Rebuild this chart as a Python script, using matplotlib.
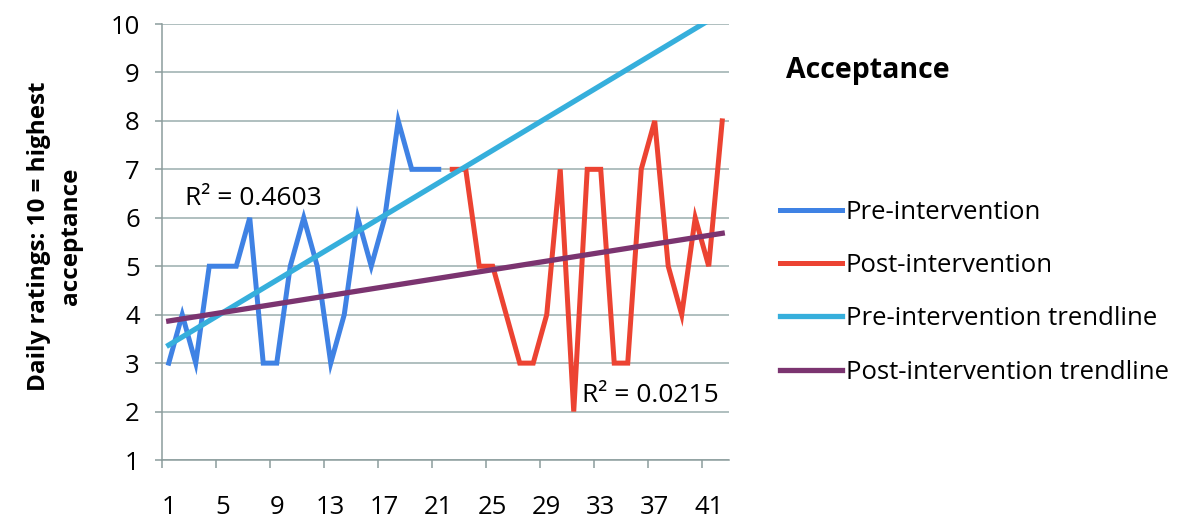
import numpy as np
import matplotlib
matplotlib.use("Agg")
import matplotlib.pyplot as plt
from matplotlib.ticker import FixedLocator

# daily ratings, days 1-21 pre-intervention, 22-42 post-intervention
pre_days = list(range(1, 22))
pre_values = [3, 4, 3, 5, 5, 5, 6, 3, 3, 5, 6, 5, 3, 4, 6, 5, 6, 8, 7, 7, 7]
post_days = list(range(22, 43))
post_values = [7, 7, 5, 5, 4, 3, 3, 4, 7, 2, 7, 7, 3, 3, 7, 8, 5, 4, 6, 5, 8]
all_days = list(range(1, 43))
x_tick_labels = [1, 5, 9, 13, 17, 21, 25, 29, 33, 37, 41]
y_ticks = list(range(1, 11))

series_labels = ["Pre-intervention", "Post-intervention",
                 "Pre-intervention trendline", "Post-intervention trendline"]
colors = ["#3f82e4", "#ec4332", "#36afdc", "#7b3470"]

plt.rcParams["font.family"] = ["Open Sans", "DejaVu Sans"]

fig = plt.figure(figsize=(11.79, 5.31), dpi=100)
ax = fig.add_axes([0.1374, 0.1337, 0.4809, 0.8211])


def trend(days, values):
    slope, intercept = np.polyfit(days, values, 1)
    fitted = slope * np.array(days) + intercept
    ss_res = np.sum((np.array(values) - fitted) ** 2)
    ss_tot = np.sum((np.array(values) - np.mean(values)) ** 2)
    line = slope * np.array(all_days) + intercept
    return line, 1 - ss_res / ss_tot


pre_line, pre_r2 = trend(pre_days, pre_values)
post_line, post_r2 = trend(post_days, post_values)

h1, = ax.plot(pre_days, pre_values, color=colors[0], lw=3.6, solid_joinstyle="miter", zorder=3)
h2, = ax.plot(post_days, post_values, color=colors[1], lw=3.6, solid_joinstyle="miter", zorder=3)
h3, = ax.plot(all_days, pre_line, color=colors[2], lw=3.8, zorder=4)
h4, = ax.plot(all_days, post_line, color=colors[3], lw=3.8, zorder=4)

ax.text(7.3, 6.4, f"R\u00b2 = {pre_r2:.4f}", fontsize=19, ha="center", va="center", zorder=5)
ax.text(36.7, 2.33, f"R\u00b2 = {post_r2:.4f}", fontsize=19, ha="center", va="center", zorder=5)

ax.set_xlim(0.5, 42.5)
ax.set_ylim(1, 10)
ax.set_yticks(y_ticks)
ax.yaxis.grid(True, color="#9aaeae", lw=1.1)
ax.set_axisbelow(True)

ax.set_xticks(x_tick_labels)
ax.set_xticklabels([str(v) for v in x_tick_labels])
ax.xaxis.set_minor_locator(FixedLocator(np.arange(0.5, 43, 4)))
ax.tick_params(axis="x", which="major", length=0, pad=25, labelsize=18.5)
ax.tick_params(axis="x", which="minor", length=6, width=1.1, color="#8c9c9c", direction="out")
ax.tick_params(axis="y", length=5, width=1.1, color="#8c9c9c", pad=11, labelsize=18.5)

for side in ["top", "right"]:
    ax.spines[side].set_visible(False)
for side in ["left", "bottom"]:
    ax.spines[side].set_color("#8c9c9c")
    ax.spines[side].set_linewidth(1.1)

ax.set_ylabel("Daily ratings: 10 = highest\nacceptance", fontsize=17.5, fontweight="bold",
              linespacing=1.45)
ax.yaxis.set_label_coords(-0.139, 0.514)

fig.text(0.667, 0.868, "Acceptance", fontsize=20.5, fontweight="bold", ha="left", va="center")

fig.legend([h1, h2, h3, h4], series_labels, loc="upper left", bbox_to_anchor=(0.653, 0.643),
           frameon=False, fontsize=18.5, handlelength=2.4, handletextpad=0.15, labelspacing=1.1,
           borderaxespad=0)

fig.savefig("out.png", dpi=100)
